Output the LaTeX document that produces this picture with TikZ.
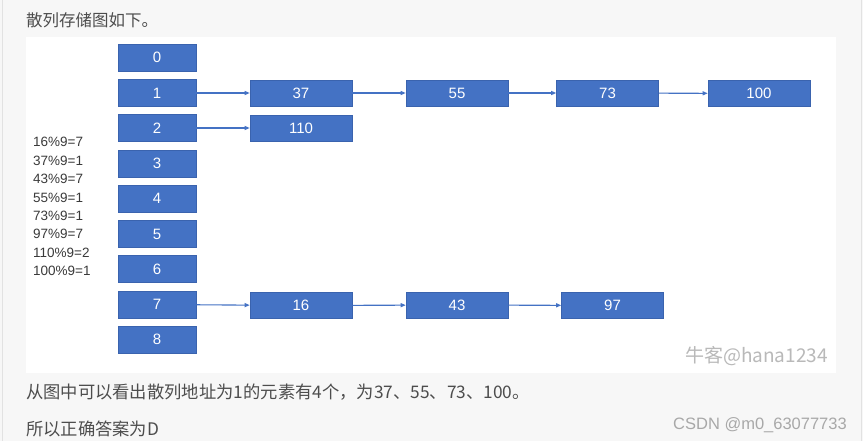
\documentclass[tikz,border=0pt]{standalone}
\usepackage{fontspec}
\setmainfont{Liberation Sans}
\newfontfamily\cjk{Noto Sans CJK SC}
\usetikzlibrary{arrows.meta,positioning}
\definecolor{officeblue}{HTML}{4472C4}
\definecolor{boxedge}{HTML}{3A63AE}
\definecolor{pagegray}{HTML}{F7F7F7}
\definecolor{edgegray}{HTML}{E2E2E2}
\definecolor{bodytext}{HTML}{4D4D4D}
\definecolor{listtext}{HTML}{3A3A3A}
\definecolor{marktext}{HTML}{A8A8A8}

\begin{document}
\begin{tikzpicture}[x=1pt,y=-1pt,
  slot/.style={rectangle,fill=officeblue,draw=boxedge,line width=0.6pt,
    minimum width=78pt,minimum height=27pt,inner sep=0pt,
    text=white,font=\fontsize{15}{15}\selectfont},
  entry/.style={slot,minimum width=102pt,minimum height=26pt},
  link/.style={-{Triangle[length=5pt,width=4pt]},officeblue,line width=1.1pt},
  modline/.style={anchor=base west,inner sep=0pt,text=listtext,
    font=\fontsize{13.5}{13.5}\selectfont}]
\useasboundingbox (0,0) rectangle (863,441);
% page and white panel
\fill[pagegray] (0,0) rectangle (863,441);
\draw[edgegray,line width=1pt] (2,0) -- (2,441);
\draw[edgegray,line width=1pt] (861,0) -- (861,441);
\fill[white] (26,37) rectangle (836,373);
% texts round the picture
\node[anchor=base west,inner sep=0pt,text=bodytext,font=\cjk\fontsize{16.5}{16.5}\selectfont]
  (title) at (26,27) {散列存储图如下。};
\node[anchor=base west,inner sep=0pt,text=bodytext,font=\cjk\fontsize{17.3}{17.3}\selectfont]
  (result) at (26,398) {从图中可以看出散列地址为1的元素有4个，为37、55、73、100。};
\node[anchor=base west,inner sep=0pt,text=bodytext,font=\cjk\fontsize{17.3}{17.3}\selectfont]
  (answer) at (26,435) {所以正确答案为D};
\node[anchor=base west,inner sep=0pt,text=marktext,font=\fontsize{16.5}{16.5}\selectfont]
  (csdn) at (673,429) {CSDN @m0\_63077733};
\node[anchor=base west,inner sep=0pt,text=marktext!80,font=\cjk\fontsize{19}{19}\selectfont]
  (nowcoder) at (685,362) {牛客@hana1234};
% remainders
\node[modline] (m16) at (33,147) {16\%9=7};
\node[modline] (m37) at (33,165.4) {37\%9=1};
\node[modline] (m43) at (33,183.8) {43\%9=7};
\node[modline] (m55) at (33,202.2) {55\%9=1};
\node[modline] (m73) at (33,220.6) {73\%9=1};
\node[modline] (m97) at (33,239) {97\%9=7};
\node[modline] (m110) at (33,257.4) {110\%9=2};
\node[modline] (m100) at (33,275.8) {100\%9=1};
% hash table
\node[slot] (b0) at (157,57.5) {0};
\node[slot] (b1) at (157,93) {1};
\node[slot] (b2) at (157,128) {2};
\node[slot] (b3) at (157,163.5) {3};
\node[slot] (b4) at (157,198.5) {4};
\node[slot] (b5) at (157,234) {5};
\node[slot] (b6) at (157,269) {6};
\node[slot] (b7) at (157,304.5) {7};
\node[slot] (b8) at (157,339.5) {8};
% chains
\node[entry] (e37) at (301,93) {37};
\node[entry] (e55) at (457,93) {55};
\node[entry] (e73) at (607.5,93) {73};
\node[entry] (e100) at (759,93.5) {100};
\node[entry] (e110) at (301,128) {110};
\node[entry] (e16) at (301,305.5) {16};
\node[entry] (e43) at (457,305) {43};
\node[entry] (e97) at (612.5,305.5) {97};
\draw[link] (b1) -- (e37);
\draw[link] (e37) -- (e55);
\draw[link] (e55) -- (e73);
\draw[link] (e73) -- (e100);
\draw[link] (b2) -- (e110);
\draw[link] (b7) -- (e16);
\draw[link] (e16) -- (e43);
\draw[link] (e43) -- (e97);
\end{tikzpicture}
\end{document}
